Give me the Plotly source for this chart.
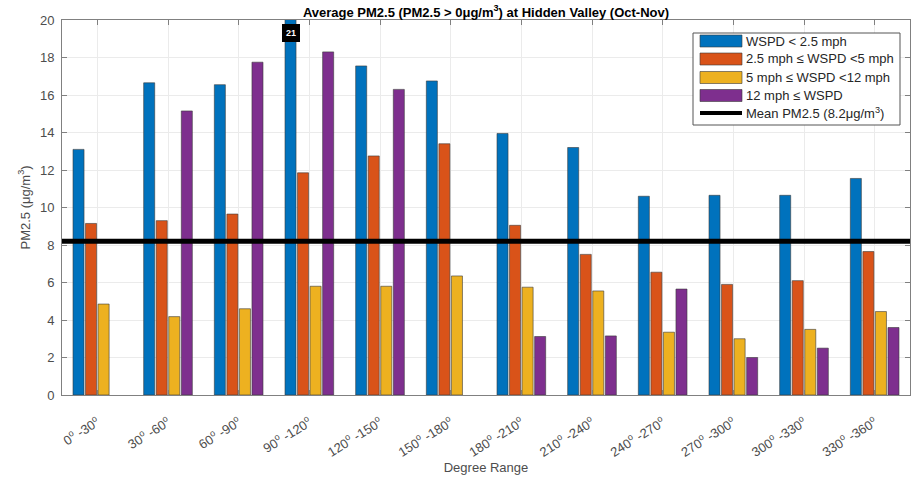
import plotly.graph_objects as go

# Wind direction sectors
sectors = ["0<sup>o</sup> -30<sup>o</sup>", "30<sup>o</sup> -60<sup>o</sup>", "60<sup>o</sup> -90<sup>o</sup>",
           "90<sup>o</sup> -120<sup>o</sup>", "120<sup>o</sup> -150<sup>o</sup>", "150<sup>o</sup> -180<sup>o</sup>",
           "180<sup>o</sup> -210<sup>o</sup>", "210<sup>o</sup> -240<sup>o</sup>", "240<sup>o</sup> -270<sup>o</sup>",
           "270<sup>o</sup> -300<sup>o</sup>", "300<sup>o</sup> -330<sup>o</sup>", "330<sup>o</sup> -360<sup>o</sup>"]
positions = list(range(1, len(sectors) + 1))

# Average PM2.5 by wind speed class (ug/m3)
wspd_lt_2_5 = [13.1, 16.65, 16.55, 21.0, 17.55, 16.75, 13.95, 13.2, 10.6, 10.65, 10.65, 11.55]
wspd_2_5_5 = [9.15, 9.3, 9.65, 11.85, 12.75, 13.4, 9.05, 7.5, 6.55, 5.9, 6.1, 7.65]
wspd_5_12 = [4.85, 4.18, 4.6, 5.8, 5.8, 6.35, 5.75, 5.55, 3.35, 3.0, 3.5, 4.45]
wspd_ge_12 = [None, 15.15, 17.75, 18.3, 16.3, None, 3.12, 3.15, 5.65, 2.0, 2.5, 3.6]
mean_pm25 = 8.2

series_names = ["WSPD < 2.5 mph", "2.5 mph \u2264 WSPD <5 mph",
                "5 mph \u2264 WSPD <12 mph", "12 mph \u2264 WSPD"]
series_values = [wspd_lt_2_5, wspd_2_5_5, wspd_5_12, wspd_ge_12]
colors = ["#0072BD", "#D95319", "#EDB120", "#7E2F8E"]

FONT = "Liberation Sans, Arial, sans-serif"
W, H = 915, 480
ML, MR, MT, MB = 62, 5, 20, 85
PW, PH = W - ML - MR, H - MT - MB
BARGAP = 0.29


def px_x(px):
    return (px - ML) / PW


def px_y(py):
    return (H - MB - py) / PH


fig = go.Figure()
for name, vals, col in zip(series_names, series_values, colors):
    fig.add_trace(go.Bar(
        x=positions, y=vals, name=name,
        marker=dict(color=col, line=dict(color="#3a3a3a", width=0.6)),
        showlegend=False,
    ))

fig.add_trace(go.Scatter(
    x=[0.5, 12.5], y=[mean_pm25, mean_pm25], mode="lines",
    line=dict(color="black", width=5), showlegend=False,
))

shapes = []
annotations = []

# Data tip on the clipped bar
peak_idx = max(range(len(wspd_lt_2_5)), key=lambda i: wspd_lt_2_5[i])
slot = (1 - BARGAP) / 4
annotations.append(dict(
    x=positions[peak_idx] - 1.5 * slot, y=19.3, xref="x", yref="y",
    text="<b>%d</b>" % round(wspd_lt_2_5[peak_idx]), showarrow=False,
    font=dict(family=FONT, size=9, color="white"),
    bgcolor="black", bordercolor="black", borderpad=3,
))

# Legend box
shapes.append(dict(type="rect", xref="paper", yref="paper",
                   x0=px_x(693), x1=px_x(900), y0=px_y(125), y1=px_y(33),
                   line=dict(color="#555555", width=1), fillcolor="white", layer="above"))
row_y = [41, 59, 77.5, 95.5, 113]
legend_labels = series_names + ["Mean PM2.5 (8.2\u03bcg/m<sup>3</sup>)"]
for i, label in enumerate(legend_labels):
    cy = row_y[i]
    if i < 4:
        shapes.append(dict(type="rect", xref="paper", yref="paper",
                           x0=px_x(700), x1=px_x(742), y0=px_y(cy + 6), y1=px_y(cy - 6),
                           line=dict(color="#3a3a3a", width=0.6), fillcolor=colors[i], layer="above"))
    else:
        shapes.append(dict(type="line", xref="paper", yref="paper",
                           x0=px_x(700), x1=px_x(742), y0=px_y(cy), y1=px_y(cy),
                           line=dict(color="black", width=4), layer="above"))
    annotations.append(dict(
        x=px_x(744), y=px_y(cy), xref="paper", yref="paper",
        text=label, showarrow=False, xanchor="left", yanchor="middle",
        font=dict(family=FONT, size=13, color="#262626"),
    ))

axis_common = dict(
    showline=True, linecolor="#808080", linewidth=1, mirror="ticks",
    ticks="inside", ticklen=5, tickcolor="#808080",
    showgrid=True, gridcolor="#ebebeb", gridwidth=1, zeroline=False,
    tickfont=dict(family=FONT, size=13, color="#4d4d4d"),
)

fig.update_layout(
    width=W, height=H,
    margin=dict(l=ML, r=MR, t=MT, b=MB),
    paper_bgcolor="white", plot_bgcolor="white",
    barmode="group", bargap=BARGAP, bargroupgap=0.12,
    title=dict(text="<b>Average PM2.5 (PM2.5 > 0\u03bcg/m<sup>3</sup>) at Hidden Valley (Oct-Nov)</b>",
               x=(ML + PW / 2) / W, xanchor="center", y=1 - 12 / H, yanchor="middle",
               font=dict(family=FONT, size=13, color="black")),
    xaxis=dict(axis_common, range=[0.5, 12.5], tickvals=positions, ticktext=sectors,
               tickangle=-32, ticklabelstandoff=14,
               title=dict(text="Degree Range", font=dict(family=FONT, size=13, color="#4d4d4d"),
                          standoff=4)),
    yaxis=dict(axis_common, range=[0, 20], tickvals=list(range(0, 21, 2)),
               ticklabelstandoff=4,
               title=dict(text="PM2.5 (\u03bcg/m<sup>3</sup>)", font=dict(family=FONT, size=13, color="#4d4d4d"),
                          standoff=6)),
    shapes=shapes, annotations=annotations,
)

fig.write_html("out.html")
